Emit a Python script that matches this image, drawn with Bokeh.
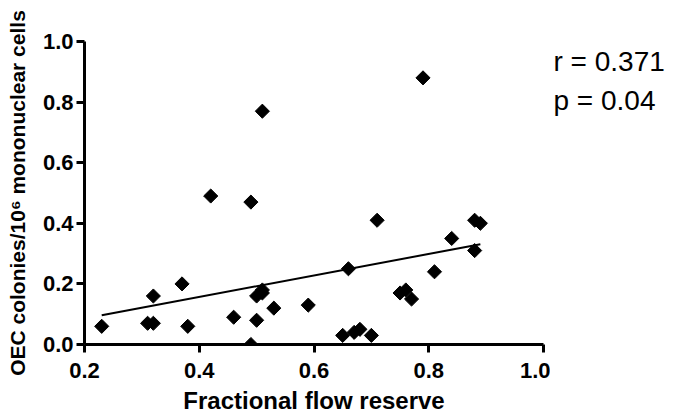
import numpy as np
from bokeh.plotting import figure
from bokeh.layouts import row
from bokeh.models import Range1d, Label, FixedTicker
from bokeh.embed import file_html
from bokeh.resources import INLINE

ffr = [0.23, 0.31, 0.32, 0.32, 0.37, 0.38, 0.42, 0.46, 0.49, 0.49, 0.50, 0.50, 0.51, 0.51, 0.51,
       0.53, 0.59, 0.65, 0.67, 0.68, 0.70, 0.66, 0.71, 0.75, 0.76, 0.77, 0.79, 0.81, 0.84, 0.88,
       0.89, 0.88]
oec = [0.06, 0.07, 0.07, 0.16, 0.20, 0.06, 0.49, 0.09, 0.47, 0.00, 0.08, 0.16, 0.17, 0.18, 0.77,
       0.12, 0.13, 0.03, 0.04, 0.05, 0.03, 0.25, 0.41, 0.17, 0.18, 0.15, 0.88, 0.24, 0.35, 0.41,
       0.40, 0.31]
x_ticks = [0.2, 0.4, 0.6, 0.8, 1.0]
y_ticks = [0.0, 0.2, 0.4, 0.6, 0.8, 1.0]
stats_lines = ["r = 0.371", "p = 0.04"]

p = figure(width=550, height=416, output_backend="svg", toolbar_location=None,
           x_range=Range1d(0.2, 1.0), y_range=Range1d(0.0, 1.0),
           min_border_left=84, min_border_right=7, min_border_top=41, min_border_bottom=72)
p.outline_line_color = None
p.grid.visible = False
p.background_fill_color = "white"
p.border_fill_color = "white"

for ax in (p.xaxis[0], p.yaxis[0]):
    ax.axis_line_width = 3
    ax.axis_line_color = "black"
    ax.major_tick_line_width = 3
    ax.major_tick_out = 8
    ax.major_tick_in = 0
    ax.minor_tick_line_color = None
    ax.major_label_text_font = "Liberation Sans"
    ax.major_label_text_font_style = "bold"
    ax.major_label_text_font_size = "22px"
    ax.major_label_text_color = "black"
    ax.axis_label_text_font = "Liberation Sans"
    ax.axis_label_text_font_style = "bold"
    ax.axis_label_text_color = "black"

p.xaxis.ticker = FixedTicker(ticks=x_ticks)
p.yaxis.ticker = FixedTicker(ticks=y_ticks)
p.xaxis.major_label_overrides = {t: f"{t:.1f}" for t in x_ticks}
p.yaxis.major_label_overrides = {t: f"{t:.1f}" for t in y_ticks}
p.yaxis.major_label_standoff = 3
p.xaxis.major_label_standoff = 10
p.xaxis.axis_label = "Fractional flow reserve"
p.xaxis.axis_label_text_font_size = "24px"
p.xaxis.axis_label_standoff = 6
p.yaxis.axis_label = "OEC colonies/10\u2076 mononuclear cells"
p.yaxis.axis_label_text_font_size = "21px"
p.yaxis.axis_label_standoff = 11

# regression line from the data
xa = np.array(ffr)
ya = np.array(oec)
slope, intercept = np.polyfit(xa, ya, 1)
lx = [xa.min(), xa.max()]
ly = [intercept + slope * v for v in lx]
p.line(lx, ly, line_color="black", line_width=2)

p.scatter(ffr, oec, marker="square", size=10, angle=np.pi / 4,
          fill_color="black", line_color="black")

# side panel holding the statistics text
s = figure(width=128, height=416, output_backend="svg", toolbar_location=None,
           x_range=Range1d(0, 128), y_range=Range1d(0.0, 1.0),
           min_border_left=0, min_border_right=0, min_border_top=41, min_border_bottom=72)
s.axis.visible = False
s.grid.visible = False
s.outline_line_color = None
s.background_fill_color = "white"
s.border_fill_color = "white"

label_y = [0.935, 0.805]
for txt, yy in zip(stats_lines, label_y):
    s.add_layout(Label(x=3, y=yy, text=txt, text_font="Liberation Sans",
                       text_font_size="28px", text_color="black",
                       text_baseline="alphabetic", text_align="left"))

layout = row(p, s, spacing=0)
open("out.html", "w").write(file_html(layout, INLINE))
